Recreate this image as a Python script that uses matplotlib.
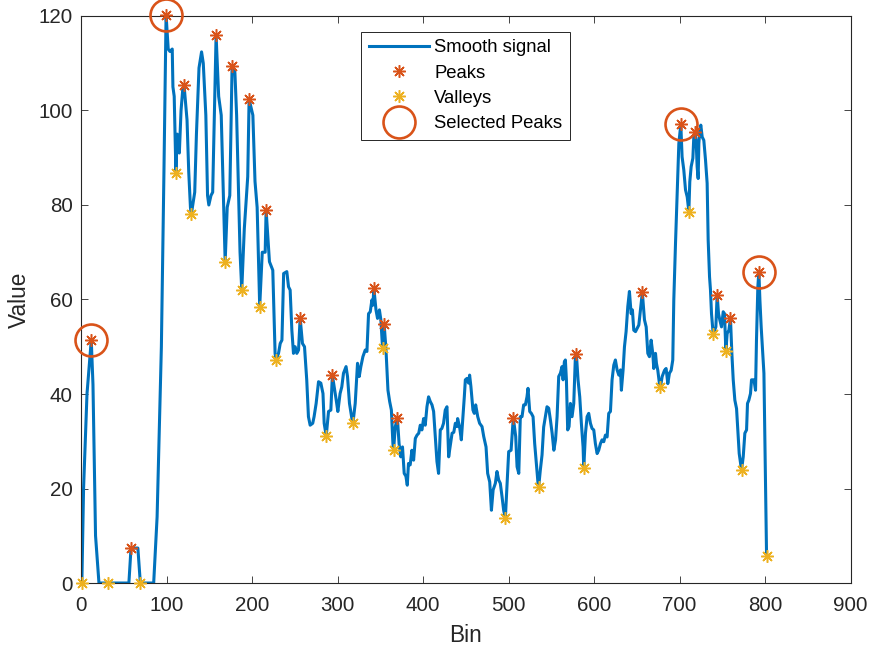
import numpy as np
import matplotlib.pyplot as plt

# smoothed signal, sampled at the bins where it changes direction
bins = [1, 3, 7, 10, 12, 14, 17, 21, 31, 56, 58.5, 66.5, 69.4, 85, 89, 94, 97, 99.5,
        102, 104, 106.7, 107.5, 109, 111, 112.5, 115, 117, 119, 120.5, 124, 126, 128, 129,
        133, 135, 138, 141, 143, 146, 148, 149.5, 152, 154, 156, 158, 161, 164, 167.5, 168.6,
        171, 174, 176.7, 180, 182, 186, 188, 191, 195, 196.6, 201, 203.5, 206, 209, 212,
        215.4, 216.5, 220.4, 224.3, 227, 228, 231, 233, 235, 237, 240.7, 242.7, 244.6, 246.6,
        248.5, 250.5, 252.4, 254.4, 256.3, 259, 261.4, 264, 266, 268, 271, 272.6, 275, 277.8,
        280.5, 283, 284.4, 286.8, 289.5, 292.2, 294, 298.5, 300.4, 303, 305, 307, 310, 311.7,
        314, 316.8, 318, 320.7, 323.4, 325.4, 327.3, 329.7, 332.4, 334.4, 336.3, 338.3, 340.2,
        341.4, 342.5, 345, 346.8, 349, 350.7, 352.7, 354.5, 356.6, 359, 361, 363, 364.8, 365.6,
        367.5, 370, 372, 374, 376, 378, 380, 381.6, 383, 385, 387, 389, 391, 393, 395, 396.8,
        398.7, 400.7, 402.6, 404.6, 406.5, 408.5, 410.5, 412.4, 414.3, 416.3, 418.2, 420.2, 422,
        424, 426, 428, 430, 431, 434, 436, 437.8, 439.7, 440.5, 442.8, 444.8, 446.7, 448.3,
        449.5, 451.4, 453.3, 454.5, 456, 458.4, 460, 461.6, 464, 466.2, 469, 471, 473.7, 475.6,
        478, 480, 482, 484.6, 486.5, 488.5, 490.4, 492.4, 494.3, 496.3, 498.2, 500.2, 503,
        505.6, 508.4, 510, 512, 513.8, 515.8, 517.7, 519.7, 521.6, 522.8, 524.8, 526.7, 528.7,
        530.6, 532.6, 534.5, 535.3, 537.2, 539.2, 541.1, 543.1, 545, 547, 549, 551, 553, 555,
        556.8, 558.7, 560.7, 562.6, 563.8, 565.3, 566.5, 567.7, 569.2, 570.8, 572.4, 574.3,
        576.3, 578.2, 579.4, 581.3, 583.3, 585.2, 587.2, 588, 590, 591.9, 593.8, 595.8, 597.7,
        599.7, 601.6, 603.6, 605.5, 607.5, 609.4, 611.4, 613.3, 615.3, 617.2, 619.2, 621.1,
        623.1, 625, 627, 629, 631, 632, 634, 635.6, 637.5, 639.5, 641.4, 643.4, 644.9, 646.5,
        648.5, 650.4, 652.4, 654.3, 656.5, 659, 661, 662.9, 664.8, 666.8, 668.7, 669.9, 671.9,
        673, 674.6, 676.5, 677.7, 679.7, 682.4, 684.3, 686.3, 688.2, 690.2, 692.1, 693.3, 695.3,
        697.2, 699.2, 701.5, 703, 705, 707, 709, 710.9, 712, 713.6, 715.6, 716.7, 717.9, 719.4,
        720.6, 721.8, 722.6, 723.7, 724.9, 726.5, 728.4, 730.4, 732.3, 733.5, 735.1, 736.2,
        737.4, 739.4, 741, 742.5, 744, 745.6, 747.2, 749.1, 751.1, 752.6, 754.2, 755.7, 757.7,
        759.6, 761.2, 762.8, 764.7, 766.7, 768.2, 769.8, 771.4, 772.5, 774.5, 776.4, 778.4,
        779.5, 781.1, 783, 784.2, 787, 788.9, 790, 791.6, 792.8, 794, 795.5, 797.5, 798.7, 801.8]
signal = [0, 20, 40, 47, 51.4, 42, 10, 0, 0, 0, 7.4, 7.4, 0, 0, 14, 50, 87, 120.2,
          113, 112.5, 113, 105, 103, 86.8, 95, 91, 100, 104.5, 105.4, 98, 87, 79.5, 78,
          82.7, 95, 109, 112.4, 110, 99, 82, 80, 82, 82.7, 99, 115.9, 103, 99, 75, 68,
          79.5, 82, 109.4, 108, 99, 70, 62, 75, 86, 102.4, 99, 85, 79.5, 58.5, 70,
          70, 78.9, 68, 66.2, 48.6, 47.2, 48.6, 50.7, 51.4, 65.5, 65.9, 62.7, 62, 53.5,
          48.6, 50, 48.6, 49.3, 56.1, 50.7, 50, 43, 35.2, 33.4, 33.8, 35.2, 38, 42.6,
          42.3, 40.1, 33.8, 31.1, 36.3, 36.6, 44, 38.7, 36.3, 40.1, 41.5, 44.4, 45.8, 43.7,
          38, 34.8, 33.8, 38, 46.5, 43.7, 45.8, 47.9, 49.3, 49, 57, 57.4, 59.9,
          58.8, 62.4, 57.8, 56, 57.8, 55.7, 49.7, 54.8, 49.7, 40.8, 38.4, 36.6, 29.5, 28.1,
          33, 35, 29.5, 26.7, 28.8, 23.2, 22.6, 20.7, 25.3, 25, 28.1, 26, 30.6, 31.3, 31.7, 33.4,
          32.4, 34.8, 33.4, 37.3, 39.4, 38.4, 37.7, 36.3, 31, 25.7, 23.2, 32.4, 32.7,
          33.8, 36.6, 37.3, 26.7, 28, 31.7, 31.9, 33.8, 33.1, 34.8, 33, 30.3, 35.2, 39.4,
          43, 43.3, 42.3, 44, 41.6, 36.6, 35.9, 37.7, 35.2, 33.8, 33.1, 31, 28.8, 23.2,
          21.4, 15.4, 19.7, 21.1, 23.6, 21.8, 21.1, 18.3, 15.4, 13.7, 20.4, 27.8, 28.1,
          35, 31, 24.6, 23.2, 35.2, 35.2, 37.7, 37.7, 39.4, 41.2, 36.3, 35.9, 35.2,
          29.5, 25.3, 21.1, 20.4, 23.9, 27.1, 33, 35.2, 37.3, 37, 34.5, 31.7, 28.1, 30.3,
          35.2, 43.7, 44.4, 45.8, 43, 46.8, 47.2, 43, 32.4, 33.1, 38, 35.2,
          38, 47.9, 48.4, 43, 39.4, 33.8, 28.8, 24.3, 31.7, 35.2, 35.9, 33.8, 32.7,
          32.4, 29.5, 27.4, 28.1, 29.5, 30.3, 29.9, 31.3, 30.9, 35.9, 36.3, 43,
          46.1, 47.2, 45.1, 44, 45.1, 40.8, 45.1, 50, 53.2, 58.5, 61.7, 57, 57.8, 53.5,
          53.2, 53.9, 54.6, 57.8, 61.5, 55.7, 54.2, 48.6, 47.9, 51.4, 48.6, 45.4, 48.6,
          46.5, 45, 42.2, 41.5, 43.7, 45, 45.4, 42.2, 44.4, 45, 47.2, 59.9, 71.9,
          82.4, 93, 97.1, 90.2, 87.4, 83.2, 81.7, 78.6, 84.9, 88.1, 89.9, 94.4, 95.5, 93.7,
          88.1, 85.6, 93, 95.9, 96.9, 94.4, 93.7, 89.5, 84.6, 72.6, 64.8, 62,
          57, 52.6, 53.5, 54.2, 61, 57, 55.6, 54.2, 57.4, 57, 49.1, 52.8, 53.5,
          56, 48.6, 43, 38.7, 36.9, 32.4, 27.4, 25.3, 23.9, 26.7, 31.7, 32.4,
          38, 38.7, 40.1, 43, 43, 40.8, 51.4, 62.7, 65.9, 59.9, 54.2, 47.9, 44.4, 5.7]

# bins of the detected extrema
peak_bins = [12, 58.5, 99.5, 120.5, 158, 176.7, 196.6, 216.5, 256.3, 294, 342.5, 354.5,
             370, 505.6, 579.4, 656.5, 701.5, 717.9, 744, 759.6, 792.8]
valley_bins = [1, 31, 69.4, 111, 129, 168.6, 188, 209, 228, 286.8, 318, 352.7, 365.6,
               496.3, 535.3, 588, 677.7, 710.9, 739.4, 754.2, 772.5, 801.8]
selected_bins = [12, 99.5, 701.5, 792.8]

peak_vals = np.interp(peak_bins, bins, signal)
valley_vals = np.interp(valley_bins, bins, signal)
selected_vals = np.interp(selected_bins, bins, signal)

plt.rcParams['font.family'] = ['Liberation Sans', 'DejaVu Sans']
axcol = '#262626'

fig = plt.figure(figsize=(8.71, 6.47), dpi=100)
ax = fig.add_axes([0.093, 0.0989, 0.8835, 0.8764])

star = (8, 2, 0)
ax.plot(bins, signal, color='#0072BD', lw=2.2, label='Smooth signal', zorder=2)
ax.plot(peak_bins, peak_vals, ls='none', marker=star, ms=9, mew=1.1,
        color='#D95319', label='Peaks', zorder=3, clip_on=False)
ax.plot(valley_bins, valley_vals, ls='none', marker=star, ms=9, mew=1.1,
        color='#EDB120', label='Valleys', zorder=3, clip_on=False)
ax.plot(selected_bins, selected_vals, ls='none', marker='o', ms=23, mew=1.9,
        mfc='none', mec='#D95319', label='Selected Peaks', zorder=4, clip_on=False)

ax.set_xlim(0, 900)
ax.set_ylim(0, 120)
ax.set_xticks(np.arange(0, 901, 100))
ax.set_yticks(np.arange(0, 121, 20))
ax.set_xlabel('Bin', fontsize=16.3, color=axcol, labelpad=6.5)
ax.set_ylabel('Value', fontsize=16.3, color=axcol, labelpad=5)
ax.tick_params(direction='in', length=5, width=0.6, colors=axcol, labelsize=14.8,
               top=True, right=True)
ax.tick_params(axis='x', pad=9)
ax.tick_params(axis='y', pad=6)
for s in ax.spines.values():
    s.set_color(axcol)
    s.set_linewidth(0.8)

leg = ax.legend(loc='upper left', bbox_to_anchor=(0.364, 0.972), fontsize=13.3,
                fancybox=False, framealpha=1, edgecolor=axcol, borderpad=0.4,
                handlelength=3.25, handletextpad=0.3, labelspacing=0.45,
                borderaxespad=0)
leg.get_frame().set_linewidth(0.7)

fig.savefig('out.png', dpi=100)
